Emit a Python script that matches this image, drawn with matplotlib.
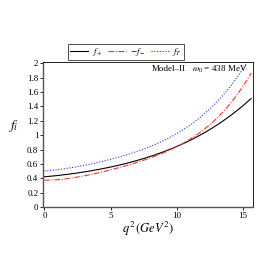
import numpy as np
import matplotlib
matplotlib.use('Agg')
import matplotlib.pyplot as plt
from matplotlib.ticker import MultipleLocator

plt.rcParams['font.family'] = 'Liberation Serif'
plt.rcParams['mathtext.fontset'] = 'stix'

# values
q2 = [0, 2, 4, 6, 8, 10, 12, 14, 15.6]
f_plus = [0.42, 0.46, 0.52, 0.60, 0.70, 0.85, 1.02, 1.27, 1.51]
f_minus = [0.37, 0.41, 0.47, 0.56, 0.68, 0.85, 1.08, 1.42, 1.87]
q2_T = [0, 2, 4, 6, 8, 10, 12, 14, 15.3]
f_T = [0.50, 0.55, 0.62, 0.71, 0.84, 1.03, 1.29, 1.66, 2.02]


def smooth(x, y, n=200):
    xs = np.linspace(x[0], x[-1], n)
    c = np.polyfit(x, y, 4)
    return xs, np.polyval(c, xs)


fig = plt.figure(figsize=(2.73, 2.73), dpi=100)
ax = fig.add_axes([0.158, 0.242, 0.769, 0.531])

x, y = smooth(q2, f_plus)
ax.plot(x, y, color='black', lw=0.8, label=r'$f_+$')
x, y = smooth(q2, f_minus)
ax.plot(x, y, color='#ff3030', lw=0.8, ls=(0, (5, 1.5, 1, 1.5)), label=r'$-f_-$')
x, y = smooth(q2_T, f_T)
ax.plot(x, y, color='#3030ff', lw=0.8, ls=(0, (1, 1.5)), label=r'$f_T$')

ax.set_xlim(-0.1, 15.75)
ax.set_ylim(0, 2.02)
ax.xaxis.set_major_locator(MultipleLocator(5))
ax.set_yticks(np.arange(0, 2.01, 0.2))
ax.set_yticklabels(['0', '0.2', '0.4', '0.6', '0.8', '1', '1.2', '1.4', '1.6', '1.8', '2'])
ax.tick_params(labelsize=6.5, length=2, width=0.6, pad=1.5)
for s in ax.spines.values():
    s.set_linewidth(0.6)
ax.spines['left'].set_linewidth(1.0)
ax.spines['bottom'].set_linewidth(1.0)
ax.spines['left'].set_color('#555555')
ax.spines['bottom'].set_color('#555555')

ax.set_xlabel(r'$q^2\,(GeV^2)$', fontsize=9, labelpad=0)
ax.set_ylabel(r'$f_i$', fontsize=10, rotation=0, labelpad=10)

ax.text(0.60, 0.95, 'Model–II', transform=ax.transAxes, fontsize=6.5, ha='center', va='center')
ax.text(0.84, 0.95, r'$\omega_0$ = 438 MeV', transform=ax.transAxes, fontsize=6.5, ha='center', va='center')

leg = ax.legend(loc='lower left', bbox_to_anchor=(0.12, 1.015), ncol=3, fontsize=6.5,
                frameon=True, fancybox=False, edgecolor='black', borderpad=0.2,
                handlelength=2.0, handletextpad=0.4, columnspacing=0.6, borderaxespad=0)
leg.get_frame().set_linewidth(0.6)

plt.savefig('out.png', dpi=100)
